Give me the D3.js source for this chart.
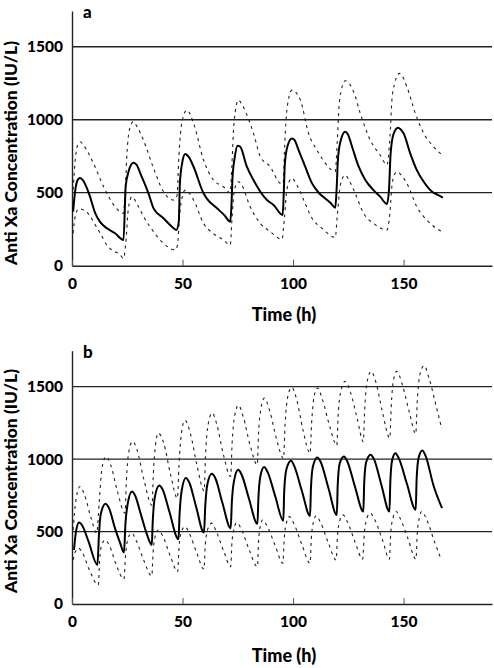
<!DOCTYPE html>
<html>
<head>
<meta charset="utf-8">
<script src="https://cdn.jsdelivr.net/npm/d3@7"></script>
<style>
  html, body { margin: 0; padding: 0; background: #fff; }
  svg { display: block; }
  text { font-family: "Lato", "Open Sans", sans-serif; font-weight: 900; fill: #000; }
</style>
</head>
<body>
<svg id="chart" width="494" height="668"></svg>
<script>
// ---------------- DATA ----------------
const xTicks = [0, 50, 100, 150];
const yTicks = [0, 500, 1000, 1500];
const gridValues = [500, 1000, 1500];
const panelLabels = ["a", "b"];
const xTitle = "Time (h)";
const yTitle = "Anti Xa Concentration (IU/L)";

// Panel a: [time (h), anti-Xa (IU/L)]
const panelA_median = [
  [0.5,370],[1.5,520],[2.5,585],[3.5,600],[5,585],[6.5,540],[8,480],[10.5,360],[12.7,300],[15.8,256],[19.5,222],[23.3,176],
  [24.3,545],[25.5,640],[27.8,705],[29.3,690],[30.9,633],[34.6,496],[36.9,393],[41.4,325],[45.2,267],[47.2,245],
  [48.3,300],[48.8,560],[49.8,700],[51.2,765],[52.8,745],[55,678],[59.5,496],[61,460],[65.6,393],[69,345],[71.6,301],
  [72.1,400],[72.6,600],[73.6,740],[74.9,822],[76.1,815],[79.1,678],[82.1,587],[85.2,507],[88.2,450],[91.2,416],[95.3,347],
  [95.8,500],[96.3,700],[97.5,820],[99.5,872],[100.7,860],[102.5,792],[105.5,678],[108.6,564],[111.6,500],[114.6,461],[117,430],[119.1,397],
  [119.7,520],[120.3,730],[121.6,860],[123.6,918],[124.8,900],[126.7,815],[129.7,678],[132.7,587],[136.4,518],[139.4,473],[142.5,423],
  [143.4,520],[144.1,760],[145.4,900],[147.5,945],[148.6,935],[150,907],[153,770],[156,655],[159.1,575],[162.9,507],[165.5,485],[167.8,466]
];
const panelA_upper = [
  [0.5,520],[1.5,730],[2.6,830],[3.7,849],[5.5,820],[9.7,701],[14.3,541],[19.5,404],[23.3,359],
  [24.2,560],[25,800],[26.3,950],[27.8,986],[29.5,950],[32.3,861],[36.9,667],[41.4,507],[46,450],
  [47.5,480],[48.4,760],[49.8,990],[52,1066],[55,975],[59.5,724],[64,587],[68.5,541],[71.6,500],
  [72.3,680],[73.3,980],[75.3,1135],[77,1100],[82.1,907],[85.2,747],[89.7,678],[94.2,564],[95.5,560],
  [96.2,820],[97.3,1080],[99.5,1203],[103.3,1135],[107,907],[110.8,792],[115.3,690],[119.1,644],
  [120,850],[121,1130],[123.6,1267],[127.4,1192],[130.4,1044],[134.9,861],[139.4,758],[142.5,690],
  [143.7,850],[145,1180],[148.2,1318],[151.5,1226],[155.3,1044],[159.1,907],[163.6,815],[167.4,758]
];
const panelA_lower = [
  [0.5,222],[1.5,340],[3,390],[5.5,380],[8.2,340],[10.5,280],[12.8,222],[15.8,140],[19.5,95],[21.5,80],
  [23.3,50],[24.3,150],[25.5,390],[27.1,473],[29.5,420],[32.4,336],[36.9,233],[41.4,153],[46.7,108],
  [47.7,140],[48.7,350],[50,480],[51.2,518],[55,450],[59.5,290],[64,220],[68.5,176],[71.6,142],
  [72.4,330],[73.5,520],[75.3,575],[76.5,560],[80.6,404],[85.2,290],[89.7,233],[95,181],
  [96.1,330],[97.3,530],[99.5,599],[101.5,560],[104.8,450],[108.6,325],[113.1,256],[119.1,194],
  [120,340],[121.5,560],[123.6,621],[125.5,580],[128.1,496],[131.9,359],[136.4,290],[142.5,245],
  [143.6,330],[145,580],[147,644],[149,620],[151.5,564],[156,404],[161.3,301],[167.4,233]
];

// Panel b
const panelB_median = [
  [0.9,373],[1.8,500],[3.2,562],[4.5,545],[7.5,430],[11.5,270],
  [12.2,480],[13,620],[15.2,691],[16.5,670],[19.5,520],[21.8,420],[23.5,355],
  [24.2,560],[25.3,700],[27.1,776],[28.5,750],[31,627],[33.9,480],[36.1,408],
  [36.5,560],[37.5,740],[39.5,818],[41,790],[44,640],[48.2,447],
  [48.6,600],[49.6,780],[51.5,869],[53,840],[56,680],[59.7,493],
  [60.3,680],[61.3,830],[63.2,898],[64.8,870],[68,700],[71.8,523],
  [72.3,700],[73.3,850],[75.2,926],[76.8,890],[80,730],[83.9,553],
  [84.3,720],[85.2,880],[86.9,945],[88.5,910],[92,740],[95.6,574],
  [96,780],[97,930],[99.1,988],[100.6,950],[104,780],[107.7,608],
  [108.1,800],[109,950],[111,1011],[112.5,980],[116,800],[119.8,615],
  [120.2,820],[121.1,970],[123,1018],[124.5,985],[128,810],[131.8,638],
  [132.2,840],[133.1,980],[135.1,1030],[136.6,1000],[140,820],[143.6,638],
  [144,840],[144.8,990],[146.3,1041],[148,1000],[151.5,830],[155.5,650],
  [155.9,860],[156.8,1010],[158.5,1060],[160,1020],[163.5,820],[167.4,661]
];
const panelB_upper = [
  [0.5,511],[1.8,720],[3.6,811],[5.5,760],[8.5,600],[11.2,489],
  [12.3,700],[13.5,930],[15.4,1018],[17.5,960],[20.5,780],[24,627],
  [24.6,850],[25.7,1050],[27.4,1122],[29.5,1060],[32.5,860],[36.2,680],
  [36.8,900],[37.8,1100],[39,1180],[41.5,1110],[44.5,900],[47.7,730],
  [48.4,960],[49.5,1180],[51.1,1267],[53.5,1180],[56.5,960],[59.8,780],
  [60.4,1020],[61.6,1240],[63.4,1318],[65.5,1240],[68.5,1030],[71.8,880],
  [72.4,1100],[73.6,1300],[75.3,1372],[77.5,1290],[80.5,1100],[83.8,960],
  [84.4,1180],[85.5,1350],[87,1421],[89.5,1330],[92.5,1140],[95.7,1005],
  [96.4,1240],[97.6,1430],[99.4,1495],[101.5,1420],[104.5,1200],[107.7,1040],
  [108.4,1250],[109.5,1430],[111,1491],[113.5,1400],[116.5,1230],[119.8,1095],
  [120.4,1300],[121.8,1480],[123.6,1537],[126,1460],[129,1280],[131.8,1120],
  [132.4,1340],[133.6,1540],[135.3,1605],[137.5,1530],[140.5,1320],[143.8,1145],
  [144.4,1360],[145.5,1550],[146.9,1605],[149.5,1510],[152.5,1330],[155.5,1175],
  [156.2,1400],[157.5,1590],[159.3,1645],[161.5,1560],[164.5,1380],[167.3,1207]
];
const panelB_lower = [
  [0.5,304],[1.5,360],[2.9,385],[4.5,360],[8,230],[11.9,131],
  [12.5,300],[13.5,410],[15,442],[17,400],[20,270],[23.5,171],
  [24.2,330],[25.3,450],[27,489],[29,440],[32.5,300],[36.1,193],
  [36.7,360],[37.7,470],[39,511],[41,470],[44.5,330],[47.8,223],
  [48.4,390],[49.5,500],[51.1,534],[53,490],[56.5,350],[59.7,240],
  [60.3,410],[61.5,520],[63.2,558],[65,510],[68.5,370],[71.8,258],
  [72.3,410],[73.3,520],[74.5,562],[76.5,520],[80,380],[83.9,258],
  [84.4,430],[85.2,540],[86.2,580],[88.5,530],[92,400],[95.4,281],
  [96,450],[97,560],[98.3,603],[100.5,550],[104,410],[107.7,281],
  [108.3,460],[109.3,570],[110.4,608],[112.5,560],[116,420],[119.5,304],
  [120.1,470],[121.2,580],[122.5,615],[124.5,570],[128,430],[131.5,309],
  [132.2,480],[133.4,590],[134.8,627],[137,580],[140.5,440],[143.6,309],
  [144.2,490],[145.3,600],[146.6,638],[148.5,590],[152,450],[155.6,309],
  [156.2,490],[157.2,600],[158.2,638],[160.5,580],[164,430],[166.5,327]
];

// ---------------- DRAW ----------------
const svg = d3.select("#chart");
svg.append("rect").attr("width", 494).attr("height", 668).attr("fill", "#fff");

const panels = [
  { label: panelLabels[0], median: panelA_median, upper: panelA_upper, lower: panelA_lower,
    top: 11, bottom: 265.7, yMax: 1745, titleY: 153, xTitleY: 321 },
  { label: panelLabels[1], median: panelB_median, upper: panelB_upper, lower: panelB_lower,
    top: 350.7, bottom: 604, yMax: 1748, titleY: 481, xTitleY: 662 }
];

const x = d3.scaleLinear().domain([0, 190]).range([72, 492]);
const FONT = "Lato, 'Open Sans', sans-serif";

panels.forEach(p => {
  const y = d3.scaleLinear().domain([0, p.yMax]).range([p.bottom, p.top]);
  const g = svg.append("g");

  // gridlines
  g.selectAll("line.grid").data(gridValues).join("line")
    .attr("class", "grid")
    .attr("x1", x.range()[0]).attr("x2", x.range()[1])
    .attr("y1", d => y(d)).attr("y2", d => y(d))
    .attr("stroke", "#222").attr("stroke-width", 1.3);

  // y axis
  const yAxis = d3.axisLeft(y).tickValues(yTicks).tickSize(0).tickPadding(9).tickFormat(d3.format("d"));
  const ya = g.append("g").attr("transform", `translate(${x(0)},0)`).call(yAxis);
  ya.select(".domain").attr("stroke", "#222").attr("stroke-width", 1.4);
  ya.selectAll("text").style("font-size", "15.5px").style("font-family", FONT).style("font-weight", 900).attr("fill", "#000");

  // x axis
  const xAxis = d3.axisBottom(x).tickValues(xTicks).tickSizeInner(-6).tickSizeOuter(0).tickPadding(12).tickFormat(d3.format("d"));
  const xa = g.append("g").attr("transform", `translate(0,${p.bottom})`).call(xAxis);
  xa.select(".domain").attr("stroke", "#222").attr("stroke-width", 1.4);
  xa.selectAll(".tick line").attr("stroke", "#555").attr("stroke-width", 1);
  xa.selectAll("text").style("font-size", "15.5px").style("font-family", FONT).style("font-weight", 900).attr("fill", "#000");

  // lines
  const line = d3.line().x(d => x(d[0])).y(d => y(d[1])).curve(d3.curveMonotoneX);
  [p.upper, p.lower].forEach(s => {
    g.append("path").datum(s).attr("d", line)
      .attr("fill", "none").attr("stroke", "#222").attr("stroke-width", 1.1)
      .attr("stroke-dasharray", "3,4");
  });
  g.append("path").datum(p.median).attr("d", line)
    .attr("fill", "none").attr("stroke", "#000").attr("stroke-width", 2)
    .attr("stroke-linejoin", "round");

  // panel label
  g.append("text").attr("x", 83).attr("y", p.top + 7).text(p.label)
    .style("font-size", "17px");

  // axis titles
  g.append("text").attr("x", 284).attr("y", p.xTitleY).attr("text-anchor", "middle")
    .style("font-size", "18px").text(xTitle);
  g.append("text").attr("transform", `translate(17,${p.titleY}) rotate(-90)`)
    .attr("text-anchor", "middle").style("font-size", "17.5px").text(yTitle);
});
</script>
</body>
</html>
